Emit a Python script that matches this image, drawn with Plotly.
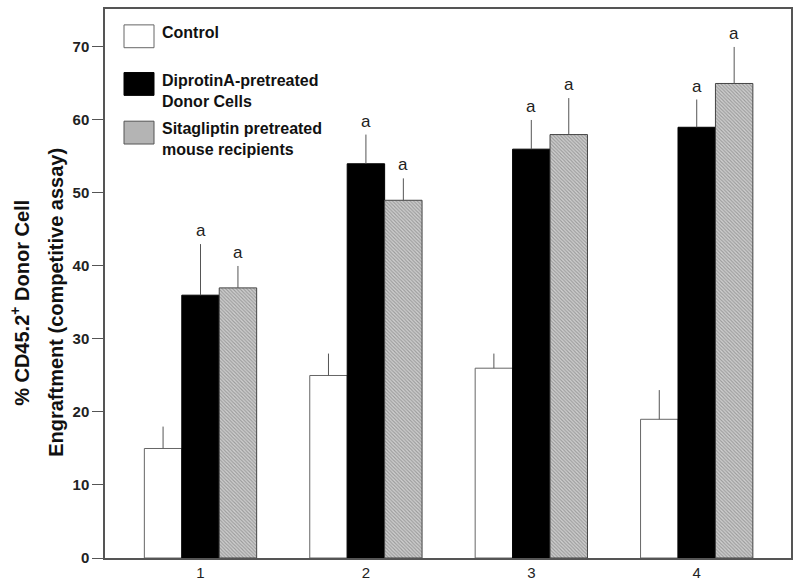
import plotly.graph_objects as go

groups = [1, 2, 3, 4]
control = [15, 25, 26, 19]
control_err = [3, 3, 2, 4]
diprotin = [36, 54, 56, 59]
diprotin_err = [7, 4, 4, 3.8]
sitagliptin = [37, 49, 58, 65]
sitagliptin_err = [3, 3, 5, 5]
sig_label = "a"
ytitle_lines = ["% CD45.2<sup>+</sup> Donor Cell", "Engraftment (competitive assay)"]

FONT = "Arial, 'Liberation Sans', sans-serif"
EDGE = "#555555"

fig = go.Figure()

def err(vals):
    return dict(type="data", array=vals, arrayminus=[0] * len(vals), symmetric=False,
                width=0, thickness=1, color=EDGE)

fig.add_trace(go.Bar(x=groups, y=control, name="Control", error_y=err(control_err),
                     marker=dict(color="white", line=dict(color="#666666", width=1))))
fig.add_trace(go.Bar(x=groups, y=diprotin, name="DiprotinA-pretreated Donor Cells",
                     error_y=err(diprotin_err),
                     marker=dict(color="black", line=dict(color="black", width=1))))
fig.add_trace(go.Bar(x=groups, y=sitagliptin, name="Sitagliptin pretreated mouse recipients",
                     error_y=err(sitagliptin_err),
                     marker=dict(color="#c8c8c8", line=dict(color="#444444", width=1),
                                 pattern=dict(shape="\\", size=2.5, solidity=0.45,
                                              fgcolor="#666666", bgcolor="#d0d0d0"))))

bw = 0.679 / 3
annotations = []
for i, g in enumerate(groups):
    for off, v, e in [(0, diprotin[i], diprotin_err[i]), (bw, sitagliptin[i], sitagliptin_err[i])]:
        annotations.append(dict(x=g + off, y=v + e, xref="x", yref="y", text=sig_label,
                                showarrow=False, yanchor="bottom", yshift=2,
                                font=dict(family=FONT, size=17, color="#222")))

W, H = 686.0, 553.0
def px(x):
    return (x - 105) / W
def py(y):
    return (560 - y) / H

for xpix, line in zip([20, 56], ytitle_lines):
    annotations.append(dict(x=px(xpix), y=py(303), xref="paper", yref="paper", textangle=-90,
                            text="<b>" + line + "</b>", showarrow=False,
                            xanchor="center", yanchor="middle",
                            font=dict(family=FONT, size=20, color="#111")))

legend_items = [
    ("white", "#666666", ["Control"], 23, 46),
    ("black", "black", ["DiprotinA-pretreated", "Donor Cells"], 71, 94),
    ("#b4b4b4", "#555555", ["Sitagliptin pretreated", "mouse recipients"], 120, 143),
]
shapes = []
for fill, line, lines, y0, y1 in legend_items:
    shapes.append(dict(type="rect", xref="paper", yref="paper", x0=px(124), x1=px(154),
                       y0=py(y1), y1=py(y0), fillcolor=fill, line=dict(color=line, width=1)))
    annotations.append(dict(x=px(160), y=py(y0 - 3), xref="paper", yref="paper",
                            text="<b>" + "<br>".join(lines) + "</b>", showarrow=False,
                            xanchor="left", yanchor="top", align="left",
                            font=dict(family=FONT, size=16, color="#111")))

fig.update_layout(
    width=800, height=588,
    margin=dict(l=105, r=9, t=7, b=28),
    paper_bgcolor="white", plot_bgcolor="white",
    barmode="group", bargap=0.321, bargroupgap=0,
    showlegend=False,
    annotations=annotations, shapes=shapes,
    xaxis=dict(range=[0.4226, 4.570], tickvals=groups, ticktext=[str(g) for g in groups],
               showgrid=False, zeroline=False, ticks="", showline=True, mirror=True,
               linecolor=EDGE, linewidth=1.5,
               tickfont=dict(family=FONT, size=15, color="#222")),
    yaxis=dict(range=[0, 75.2], tickvals=[0, 10, 20, 30, 40, 50, 60, 70],
               showgrid=False, zeroline=False, ticks="outside", ticklen=11, tickcolor=EDGE,
               showline=True, mirror=True, linecolor=EDGE, linewidth=1.5,
               tickfont=dict(family=FONT, size=15, color="#222", weight="bold")),
)

fig.write_html("out.html", config={"displayModeBar": False},
               post_script="document.body.style.margin='0px';document.body.style.padding='0px';")
